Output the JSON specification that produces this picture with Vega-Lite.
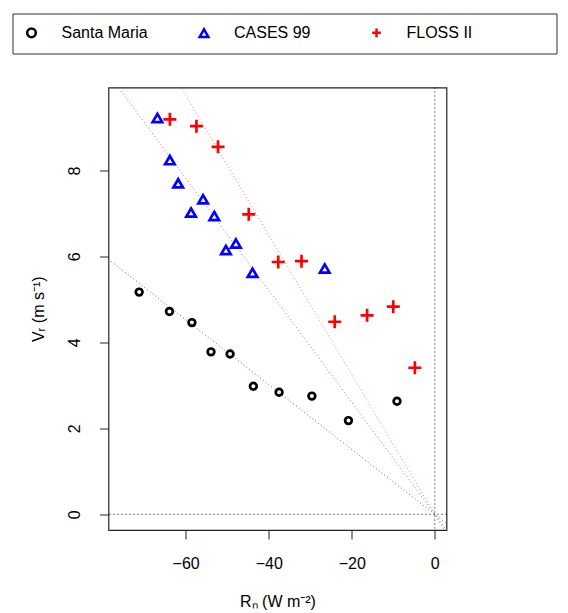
{
  "$schema": "https://vega.github.io/schema/vega-lite/v6.json",
  "autosize": {"type": "none"},
  "width": 338,
  "height": 442.5,
  "padding": {"left": 108.5, "top": 87.5, "right": 121.5, "bottom": 83},
  "background": "white",
  "config": {
    "font": "Liberation Sans",
    "view": {"stroke": "#222222", "strokeWidth": 1.2},
    "axis": {
      "domain": false,
      "grid": false,
      "tickColor": "#222222",
      "tickSize": 9,
      "labelColor": "black",
      "titleColor": "black",
      "labelFont": "Liberation Sans",
      "titleFont": "Liberation Sans",
      "labelFontSize": 16,
      "titleFontSize": 16,
      "titleFontWeight": "normal"
    },
    "legend": {
      "labelFont": "Liberation Sans",
      "labelFontSize": 16,
      "labelColor": "black",
      "titleFont": "Liberation Sans"
    }
  },
  "datasets": {
    "points": [
      {"series": "Santa Maria", "Rn": -71.2, "Vr": 5.17},
      {"series": "Santa Maria", "Rn": -63.9, "Vr": 4.72},
      {"series": "Santa Maria", "Rn": -58.5, "Vr": 4.46},
      {"series": "Santa Maria", "Rn": -53.9, "Vr": 3.78},
      {"series": "Santa Maria", "Rn": -49.3, "Vr": 3.73},
      {"series": "Santa Maria", "Rn": -43.7, "Vr": 2.98},
      {"series": "Santa Maria", "Rn": -37.5, "Vr": 2.84},
      {"series": "Santa Maria", "Rn": -29.6, "Vr": 2.75},
      {"series": "Santa Maria", "Rn": -20.8, "Vr": 2.18},
      {"series": "Santa Maria", "Rn": -9.1, "Vr": 2.63},
      {"series": "CASES 99", "Rn": -66.8, "Vr": 9.22},
      {"series": "CASES 99", "Rn": -63.8, "Vr": 8.24},
      {"series": "CASES 99", "Rn": -61.8, "Vr": 7.70},
      {"series": "CASES 99", "Rn": -55.8, "Vr": 7.33},
      {"series": "CASES 99", "Rn": -58.7, "Vr": 7.02},
      {"series": "CASES 99", "Rn": -53.1, "Vr": 6.94},
      {"series": "CASES 99", "Rn": -47.9, "Vr": 6.30},
      {"series": "CASES 99", "Rn": -50.3, "Vr": 6.15},
      {"series": "CASES 99", "Rn": -43.9, "Vr": 5.62},
      {"series": "CASES 99", "Rn": -26.5, "Vr": 5.72},
      {"series": "FLOSS II", "Rn": -63.8, "Vr": 9.19},
      {"series": "FLOSS II", "Rn": -57.4, "Vr": 9.03},
      {"series": "FLOSS II", "Rn": -52.2, "Vr": 8.55},
      {"series": "FLOSS II", "Rn": -44.8, "Vr": 6.98},
      {"series": "FLOSS II", "Rn": -37.7, "Vr": 5.87},
      {"series": "FLOSS II", "Rn": -32.1, "Vr": 5.89},
      {"series": "FLOSS II", "Rn": -24.1, "Vr": 4.48},
      {"series": "FLOSS II", "Rn": -16.3, "Vr": 4.63},
      {"series": "FLOSS II", "Rn": -10.0, "Vr": 4.83},
      {"series": "FLOSS II", "Rn": -4.8, "Vr": 3.41}
    ],
    "fits": [
      {"fit": "Santa Maria", "Rn": -78.58, "Vr": 5.933},
      {"fit": "Santa Maria", "Rn": 2.82, "Vr": -0.213},
      {"fit": "CASES 99", "Rn": -78.58, "Vr": 10.24},
      {"fit": "CASES 99", "Rn": 2.82, "Vr": -0.367},
      {"fit": "FLOSS II", "Rn": -78.58, "Vr": 12.77},
      {"fit": "FLOSS II", "Rn": 2.82, "Vr": -0.458}
    ]
  },
  "layer": [
    {
      "data": {"name": "fits"},
      "transform": [{"filter": "datum.fit == 'Santa Maria'"}],
      "mark": {"type": "line", "clip": true, "stroke": "#444444", "strokeWidth": 1, "strokeDash": [1, 2.5], "strokeOpacity": 0.8},
      "encoding": {
        "x": {"field": "Rn", "type": "quantitative"},
        "y": {"field": "Vr", "type": "quantitative"}
      }
    },
    {
      "data": {"name": "fits"},
      "transform": [{"filter": "datum.fit == 'CASES 99'"}],
      "mark": {"type": "line", "clip": true, "stroke": "#5a5aff", "strokeWidth": 1, "strokeDash": [1, 2.5], "strokeOpacity": 0.8},
      "encoding": {
        "x": {"field": "Rn", "type": "quantitative"},
        "y": {"field": "Vr", "type": "quantitative"}
      }
    },
    {
      "data": {"name": "fits"},
      "transform": [{"filter": "datum.fit == 'FLOSS II'"}],
      "mark": {"type": "line", "clip": true, "stroke": "#ff5a5a", "strokeWidth": 1, "strokeDash": [1, 2.5], "strokeOpacity": 0.8},
      "encoding": {
        "x": {"field": "Rn", "type": "quantitative"},
        "y": {"field": "Vr", "type": "quantitative"}
      }
    },
    {
      "data": {"values": [{"v": 0}]},
      "mark": {"type": "rule", "stroke": "black", "strokeWidth": 1, "strokeDash": [1, 3]},
      "encoding": {"y": {"field": "v", "type": "quantitative"}}
    },
    {
      "data": {"values": [{"v": 0}]},
      "mark": {"type": "rule", "stroke": "black", "strokeWidth": 1, "strokeDash": [1, 3]},
      "encoding": {"x": {"field": "v", "type": "quantitative"}}
    },
    {
      "data": {"name": "points"},
      "transform": [{"filter": "datum.series == 'Santa Maria'"}],
      "mark": {"type": "point", "filled": false, "strokeWidth": 2.7, "opacity": 1, "size": 45},
      "encoding": {
        "x": {"field": "Rn", "type": "quantitative"},
        "y": {"field": "Vr", "type": "quantitative"},
        "stroke": {"field": "series", "type": "nominal"},
        "shape": {"field": "series", "type": "nominal"}
      }
    },
    {
      "data": {"name": "points"},
      "transform": [{"filter": "datum.series == 'CASES 99'"}],
      "mark": {"type": "point", "filled": false, "strokeWidth": 2.7, "opacity": 1, "size": 90},
      "encoding": {
        "x": {"field": "Rn", "type": "quantitative"},
        "y": {"field": "Vr", "type": "quantitative"},
        "stroke": {"field": "series", "type": "nominal"},
        "shape": {"field": "series", "type": "nominal"}
      }
    },
    {
      "data": {"name": "points"},
      "transform": [{"filter": "datum.series == 'FLOSS II'"}],
      "mark": {"type": "point", "filled": false, "strokeWidth": 2.7, "opacity": 1, "size": 170},
      "encoding": {
        "x": {
          "field": "Rn", "type": "quantitative",
          "scale": {"domain": [-78.58, 2.82], "nice": false, "zero": false},
          "axis": {"values": [-60, -40, -20, 0], "labelPadding": 16, "title": "Rₙ (W m⁻²)", "titlePadding": 22}
        },
        "y": {
          "field": "Vr", "type": "quantitative",
          "scale": {"domain": [-0.365, 9.93], "nice": false, "zero": false},
          "axis": {"values": [0, 2, 4, 6, 8], "labelAngle": 270, "labelAlign": "center", "labelBaseline": "middle", "labelPadding": 25, "title": "Vᵣ (m s⁻¹)", "titlePadding": 20}
        },
        "stroke": {
          "field": "series", "type": "nominal",
          "scale": {"domain": ["Santa Maria", "CASES 99", "FLOSS II"], "range": ["black", "blue", "red"]},
          "legend": {
            "orient": "none",
            "legendX": -96,
            "legendY": -74,
            "direction": "horizontal",
            "title": " ",
            "titleOrient": "right",
            "titlePadding": 73,
            "titleFontSize": 16,
            "padding": 11,
            "strokeColor": "#333333",
            "gridAlign": "all",
            "columnPadding": 45.5,
            "labelOffset": 22,
            "symbolSize": 75,
            "symbolStrokeWidth": 2.5
          }
        },
        "shape": {
          "field": "series", "type": "nominal",
          "scale": {"domain": ["Santa Maria", "CASES 99", "FLOSS II"], "range": ["circle", "triangle-up", "M-1,0H1M0,-1V1"]}
        }
      }
    }
  ]
}
